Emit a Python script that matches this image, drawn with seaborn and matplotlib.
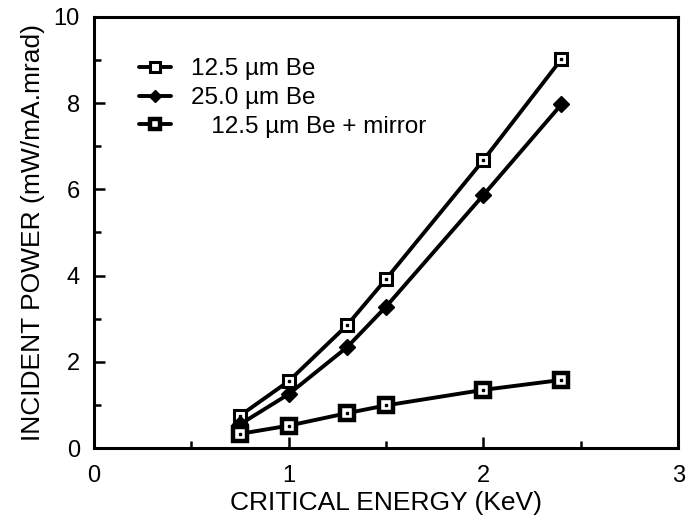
import matplotlib
matplotlib.use("Agg")
import matplotlib.pyplot as plt
import seaborn as sns
import pandas as pd
from matplotlib.ticker import MultipleLocator

energy = [0.75, 1.0, 1.3, 1.5, 2.0, 2.4]
be125 = [0.75, 1.55, 2.85, 3.92, 6.68, 9.02]
be250 = [0.55, 1.25, 2.34, 3.28, 5.87, 7.97]
be125_mirror = [0.33, 0.52, 0.81, 0.99, 1.35, 1.58]
labels = ["12.5 \u00b5m Be", "25.0 \u00b5m Be", "   12.5 \u00b5m Be + mirror"]

sns.set_theme(style="ticks")
plt.rcParams['font.family'] = ['Liberation Sans', 'DejaVu Sans']

df = pd.DataFrame({
    "energy": energy * 3,
    "power": be125 + be250 + be125_mirror,
    "series": [labels[0]] * 6 + [labels[1]] * 6 + [labels[2]] * 6,
})

fig = plt.figure(figsize=(6.9, 5.29), dpi=100)
ax = fig.add_axes([0.136, 0.153, 0.847, 0.815])

styles = {
    labels[0]: dict(marker="s", mfc="white", mec="black", ms=9, mew=2.2),
    labels[1]: dict(marker="D", mfc="black", mec="black", ms=8, mew=1.0),
    labels[2]: dict(marker="s", mfc="white", mec="black", ms=10, mew=3.2),
}
for lab in labels:
    sub = df[df["series"] == lab]
    sns.lineplot(data=sub, x="energy", y="power", ax=ax, color="black",
                 linewidth=2.8, label=lab, **styles[lab])
    if lab != labels[1]:
        ax.plot(sub["energy"], sub["power"], linestyle="none", marker="s",
                ms=2, color="black")

ax.set_xlim(0, 3)
ax.set_ylim(0, 10)
ax.xaxis.set_major_locator(MultipleLocator(1))
ax.xaxis.set_minor_locator(MultipleLocator(0.5))
ax.yaxis.set_major_locator(MultipleLocator(2))
ax.yaxis.set_minor_locator(MultipleLocator(1))
ax.tick_params(which="both", direction="in", color="black", labelsize=17,
               labelcolor="black", width=1.8)
ax.tick_params(which="major", length=8)
ax.tick_params(which="minor", length=5)
ax.tick_params(axis="x", pad=12)
ax.tick_params(axis="y", pad=10)
for s in ax.spines.values():
    s.set_linewidth(2.2)
    s.set_color("black")
ax.set_xlabel("CRITICAL ENERGY (KeV)", fontsize=19, color="black", labelpad=3)
ax.set_ylabel("INCIDENT POWER (mW/mA.mrad)", fontsize=19, color="black", labelpad=6)

leg = ax.legend(loc="upper left", frameon=False, fontsize=17.5,
                bbox_to_anchor=(0.04, 0.955), handlelength=1.3,
                labelspacing=0.28, handletextpad=0.85, markerscale=0.75)
for t in leg.get_texts():
    t.set_color("black")

fig.savefig("out.png", dpi=100)
